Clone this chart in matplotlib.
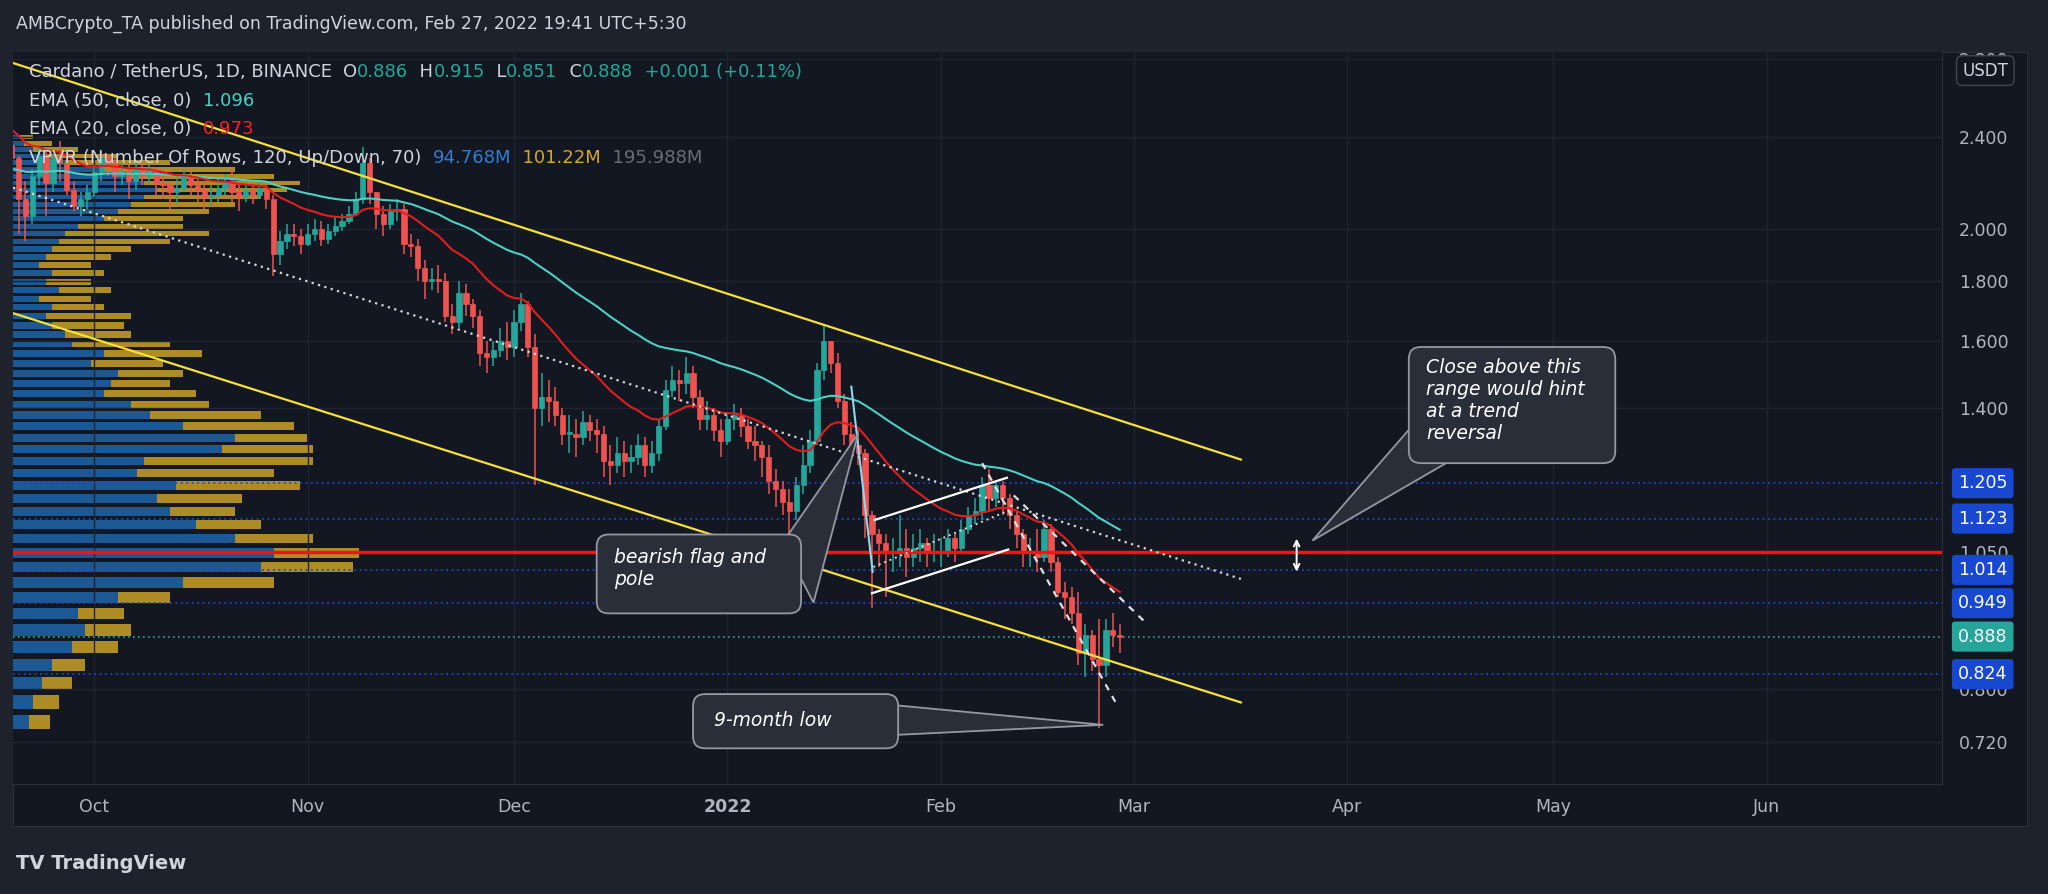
import numpy as np
import matplotlib
matplotlib.use("Agg")
import matplotlib.pyplot as plt
from matplotlib.patches import Rectangle, FancyBboxPatch, Polygon
from matplotlib.transforms import blended_transform_factory

# ---------------- data ----------------
first_day = -104  # Sep 19, 2021 relative to Jan 1 2022
first_open = 2.36
closes = [2.30,2.12,2.05,2.22,2.31,2.19,2.30,2.28,2.16,2.09,2.12,2.15,
          2.24,2.30,2.28,2.22,2.24,2.20,2.25,2.22,2.24,2.19,2.18,2.15,2.17,2.22,2.18,2.16,2.13,2.14,2.17,2.19,2.15,2.13,2.16,2.14,2.17,2.12,1.90,1.95,1.98,1.97,1.94,
          1.98,2.00,1.96,1.99,2.01,2.03,2.06,2.12,2.28,2.15,2.06,2.02,2.07,2.08,1.94,1.93,1.85,1.80,1.81,1.80,1.68,1.66,1.76,1.72,1.68,1.56,1.55,1.57,1.60,1.58,
          1.66,1.72,1.58,1.40,1.43,1.42,1.38,1.33,1.33,1.32,1.36,1.34,1.33,1.26,1.25,1.28,1.26,1.27,1.30,1.25,1.28,1.35,1.45,1.48,1.47,1.50,1.43,1.37,1.38,1.34,1.31,
          1.37,1.38,1.35,1.31,1.30,1.27,1.21,1.19,1.16,1.14,1.20,1.25,1.31,1.51,1.60,1.53,1.42,1.33,1.30,1.28,1.13,1.09,1.07,1.05,1.05,1.06,1.04,1.06,1.07,1.05,1.05,
          1.05,1.08,1.06,1.10,1.13,1.14,1.20,1.17,1.20,1.17,1.13,1.09,1.05,1.05,1.04,1.10,1.03,0.97,0.96,0.93,0.86,0.89,0.85,0.84,0.90,0.89,0.888]
highs = [2.42,2.31,2.20,2.25,2.36,2.33,2.32,2.38,2.33,2.20,2.15,2.18,
         2.27,2.33,2.32,2.30,2.28,2.27,2.29,2.28,2.27,2.26,2.22,2.20,2.21,2.25,2.24,2.22,2.20,2.18,2.21,2.23,2.25,2.20,2.19,2.19,2.20,2.19,2.14,1.99,2.02,2.02,2.00,
         2.02,2.04,2.03,2.02,2.05,2.06,2.09,2.15,2.35,2.30,2.15,2.09,2.10,2.12,2.10,1.98,1.96,1.88,1.85,1.86,1.83,1.72,1.80,1.79,1.74,1.70,1.60,1.60,1.64,1.66,
         1.70,1.76,1.73,1.62,1.50,1.48,1.46,1.40,1.38,1.37,1.39,1.38,1.37,1.35,1.30,1.32,1.31,1.30,1.33,1.32,1.31,1.37,1.48,1.52,1.51,1.55,1.52,1.45,1.42,1.40,1.37,
         1.38,1.41,1.40,1.37,1.35,1.31,1.30,1.24,1.21,1.19,1.22,1.30,1.34,1.53,1.65,1.60,1.56,1.44,1.36,1.34,1.29,1.14,1.10,1.09,1.08,1.13,1.10,1.09,1.10,1.08,1.09,
         1.08,1.10,1.09,1.12,1.15,1.17,1.22,1.24,1.21,1.21,1.18,1.14,1.10,1.08,1.10,1.12,1.11,1.04,0.99,0.98,0.97,0.91,0.90,0.92,0.92,0.93,0.91]
lows = [2.28,1.98,1.95,2.02,2.18,2.05,2.15,2.20,2.14,2.07,2.05,2.08,
        2.13,2.20,2.22,2.15,2.18,2.12,2.16,2.18,2.19,2.14,2.12,2.08,2.10,2.15,2.14,2.10,2.08,2.09,2.11,2.14,2.10,2.07,2.11,2.10,2.12,2.08,1.82,1.86,1.92,1.93,1.90,
        1.93,1.95,1.93,1.94,1.97,1.99,2.02,2.05,2.10,2.10,2.00,1.97,2.00,2.03,1.90,1.89,1.80,1.74,1.77,1.76,1.66,1.62,1.64,1.68,1.64,1.52,1.50,1.52,1.55,1.54,
        1.55,1.63,1.55,1.20,1.35,1.36,1.35,1.30,1.28,1.27,1.30,1.31,1.28,1.22,1.20,1.23,1.22,1.23,1.25,1.22,1.23,1.26,1.34,1.43,1.42,1.44,1.40,1.34,1.34,1.31,1.27,
        1.30,1.34,1.32,1.29,1.26,1.22,1.18,1.15,1.13,1.09,1.12,1.18,1.23,1.30,1.48,1.50,1.40,1.30,1.26,1.25,1.08,0.94,1.02,0.96,1.01,1.02,1.00,1.02,1.03,1.02,1.03,
        1.02,1.04,1.03,1.05,1.09,1.11,1.12,1.14,1.15,1.13,1.10,1.06,1.02,1.02,1.01,1.03,1.01,0.96,0.92,0.91,0.84,0.82,0.83,0.74,0.82,0.87,0.86]

vp_prices = [0.75+0.03*i for i in range(56)]
vp_up    = [12,15,22,30,45,55,50,80,130,190,200,170,140,120,110,125,95,100,160,170,130,105,90,70,75,80,60,70,45,40,
            30,25,30,20,35,25,30,20,25,30,35,40,50,70,80,90,100,110,100,90,70,40,25,15,8,5]
vp_total = [28,35,45,55,80,90,85,120,200,260,265,230,190,170,175,220,200,230,230,225,215,190,150,140,120,130,115,145,120,90,
            85,90,70,60,75,60,70,60,75,90,120,150,130,130,150,170,190,210,220,200,170,120,80,50,30,15]

level_lines = [1.205, 1.123, 1.014, 0.949, 0.824]
last_price = 0.888
key_level = 1.05
price_ticks = [0.720, 0.800, 1.050, 1.400, 1.600, 1.800, 2.000, 2.400, 2.800]
month_pos = [-92, -61, -31, 0, 31, 59, 90, 120, 151]
month_labels = ["Oct", "Nov", "Dec", "2022", "Feb", "Mar", "Apr", "May", "Jun"]

# ---------------- figure ----------------
BG = "#131722"
fig = plt.figure(figsize=(20.48, 8.94), dpi=100)
fig.patch.set_facecolor("#1e222d")
W, H = 1568, 684
panel = Rectangle((10/W, 1-632/H), 1542/W, 592/H, transform=fig.transFigure,
                  facecolor=BG, edgecolor="#2a2e39", zorder=-10)
fig.add_artist(panel)
ax = fig.add_axes([10/W, 1-600/H, 1477/W, 560/H])
ax.set_zorder(1)
ax.set_facecolor(BG)
ax.set_yscale("log")
ax.set_xlim(-103.8, 176.5)
ax.set_ylim(0.662, 2.84)
for s in ax.spines.values():
    s.set_visible(False)
ax.spines["right"].set_visible(True); ax.spines["right"].set_color("#2a2e39")
ax.spines["bottom"].set_visible(True); ax.spines["bottom"].set_color("#2a2e39")

ax.yaxis.tick_right()
ax.set_yticks(price_ticks)
ax.set_yticklabels([f"{t:.3f}" for t in price_ticks])
ax.minorticks_off()
ax.tick_params(axis="y", colors="#b2b5be", labelsize=12.5, length=0, pad=12)
ax.set_xticks(month_pos)
ax.set_xticklabels(month_labels)
ax.tick_params(axis="x", colors="#b2b5be", labelsize=12.5, length=0, pad=10)
for lab in ax.get_xticklabels():
    if lab.get_text() == "2022":
        lab.set_fontweight("bold")
ax.grid(True, color="#1f2330", lw=1)

# volume profile
bt = blended_transform_factory(ax.transAxes, ax.transData)
axw = 1477.0
for p, u, t in zip(vp_prices, vp_up, vp_total):
    ax.add_patch(Rectangle((0, p-0.011), u/axw, 0.021, transform=bt, facecolor="#1e64a8",
                           alpha=0.85, lw=0, zorder=1))
    ax.add_patch(Rectangle((u/axw, p-0.011), (t-u)/axw, 0.021, transform=bt, facecolor="#c9a227",
                           alpha=0.85, lw=0, zorder=1))

# candles
n = len(closes)
days = np.arange(first_day, first_day+n)
opens = [first_open] + closes[:-1]
for d, o, c, h, l in zip(days, opens, closes, highs, lows):
    col = "#26a69a" if c >= o else "#ef5350"
    ax.vlines(d, l, h, color=col, lw=1.1, zorder=4)
    ax.add_patch(Rectangle((d-0.38, min(o, c)), 0.76, max(abs(c-o), 0.003), facecolor=col,
                           edgecolor=col, lw=0.5, zorder=5))

def ema(vals, span):
    a = 2/(span+1); out = []; e = vals[0]
    for v in vals:
        e = a*v + (1-a)*e; out.append(e)
    return np.array(out)
ema_seed50 = [2.25]*40 + closes
ema_seed20 = [2.45]*15 + closes
ax.plot(days, ema(ema_seed50, 50)[40:], color="#4dd0c4", lw=1.5, zorder=6)
ax.plot(days, ema(ema_seed20, 20)[15:], color="#e01e1e", lw=1.5, zorder=6)

# horizontal levels
for lv in level_lines:
    ax.axhline(lv, color="#2046c8", lw=1.3, ls=(0, (1, 2)), zorder=2)
ax.axhline(last_price, color="#26a69a", lw=1.2, ls=(0, (1, 2)), zorder=2)
ax.axhline(key_level, color="#ff1010", lw=2.5, zorder=7)

# channel / trend lines
ax.plot([-103.8, 74.6], [2.78, 1.263], color="#f5e03c", lw=1.6, zorder=7)
ax.plot([-103.8, 74.6], [1.69, 0.779], color="#f5e03c", lw=1.6, zorder=7)
ax.plot([-103.8, 74.6], [2.17, 0.996], color="#d8d8d8", lw=1.6, ls=(0, (1, 2)), zorder=7)
ax.plot([21.4, 40.6], [1.12, 1.218], color="white", lw=1.6, zorder=8)
ax.plot([21.0, 40.8], [0.968, 1.056], color="white", lw=1.6, zorder=8)
ax.plot([21.2, 40.7], [1.02, 1.14], color="#d8d8d8", lw=1.4, ls=(0, (1, 2)), zorder=8)
ax.plot([18.0, 21.1], [1.46, 1.01], color="#8fd8ec", lw=1.5, zorder=8)
ax.plot([37.0, 56.4], [1.254, 0.779], color="#e0e0e0", lw=1.6, ls=(0, (3, 3)), zorder=8)
ax.plot([41.6, 61.1], [1.176, 0.909], color="#e0e0e0", lw=1.6, ls=(0, (3, 3)), zorder=8)
ax.annotate("", xy=(82.7, 1.005), xytext=(82.7, 1.085),
            arrowprops=dict(arrowstyle="<->", color="white", lw=1.4), zorder=9)

fig.canvas.draw()

def callout(x0, x1, y0, y1):
    tr = ax.transData
    X0, Y0 = tr.transform((x0, y0)); X1, Y1 = tr.transform((x1, y1))
    fb = FancyBboxPatch((X0, Y0), X1-X0, Y1-Y0, boxstyle="round,pad=0,rounding_size=12",
                        transform=None, facecolor="#2a2e39", edgecolor="#9598a1", lw=1.3, zorder=10)
    ax.add_artist(fb)

def pointer(base_pts, tip):
    tr = ax.transData
    pts = [tr.transform(p) for p in base_pts] + [tr.transform(tip)]
    poly = Polygon([pts[0], pts[2], pts[1]], closed=True, transform=None, facecolor="#2a2e39",
                   edgecolor="#9598a1", lw=1.3, zorder=9.5)
    ax.add_artist(poly)

# box 1
pointer([(99.0, 1.34), (107.0, 1.28)], (85.0, 1.075))
callout(99.0, 129.0, 1.254, 1.58)
ax.text(101.5, 1.545, "Close above this\nrange would hint\nat a trend\nreversal", color="white",
        fontsize=13.5, style="italic", va="top", ha="left", zorder=11, linespacing=1.2)
# box 2
pointer([(8.0, 1.07), (12.5, 0.95)], (19.0, 1.33))
callout(-19.0, 10.7, 0.93, 1.088)
ax.text(-16.5, 1.06, "bearish flag and\npole", color="white", fontsize=13.5, style="italic",
        va="top", ha="left", zorder=11, linespacing=1.2)
# box 3
pointer([(24.0, 0.775), (24.0, 0.73)], (54.6, 0.745))
callout(-5.0, 24.8, 0.711, 0.792)
ax.text(-2.0, 0.752, "9-month low", color="white", fontsize=13.5, style="italic",
        va="center", ha="left", zorder=11)

# right-axis labels
for lv in level_lines:
    ax.text(1.0+31/axw, lv, f"{lv:.3f}", transform=bt, color="white", fontsize=12.5, ha="center",
            va="center", zorder=12, clip_on=False,
            bbox=dict(boxstyle="round,pad=0.35,rounding_size=0.2", fc="#1848d0", ec="none"))
ax.text(1.0+31/axw, last_price, f"{last_price:.3f}", transform=bt, color="white", fontsize=12.5,
        ha="center", va="center", zorder=12, clip_on=False,
        bbox=dict(boxstyle="round,pad=0.35,rounding_size=0.2", fc="#26a69a", ec="none"))
fig.text(1520/W, 1-54/H, "USDT", color="#d1d4dc", fontsize=12, ha="center", va="center", zorder=20,
         bbox=dict(boxstyle="round,pad=0.35", fc="#131722", ec="#434651"))

# header & legend
fig.text(12/W, 1-18/H, "AMBCrypto_TA published on TradingView.com, Feb 27, 2022 19:41 UTC+5:30",
         color="#d1d4dc", fontsize=12.5, va="center")
r = fig.canvas.get_renderer()
def legend_line(y, parts):
    x = 22
    for txt, col in parts:
        t = fig.text(x/W, 1-y/H, txt, color=col, fontsize=13, va="center", zorder=20)
        bb = t.get_window_extent(renderer=r)
        x += bb.width * W / fig.bbox.width
legend_line(55, [("Cardano / TetherUS, 1D, BINANCE  ", "#d1d4dc"), ("O", "#d1d4dc"), ("0.886", "#26a69a"),
                 ("  H", "#d1d4dc"), ("0.915", "#26a69a"), ("  L", "#d1d4dc"), ("0.851", "#26a69a"),
                 ("  C", "#d1d4dc"), ("0.888", "#26a69a"), ("  +0.001 (+0.11%)", "#26a69a")])
legend_line(77, [("EMA (50, close, 0)  ", "#d1d4dc"), ("1.096", "#4dd0c4")])
legend_line(99, [("EMA (20, close, 0)  ", "#d1d4dc"), ("0.973", "#ff2020")])
legend_line(121, [("VPVR (Number Of Rows, 120, Up/Down, 70)  ", "#d1d4dc"), ("94.768M", "#2f7fd0"),
                  ("  101.22M", "#d4a72c"), ("  195.988M", "#6a6d78")])
fig.text(12/W, 1-661/H, "TV TradingView", color="#d1d4dc", fontsize=14, fontweight="bold", va="center")

fig.savefig("out.png", dpi=100, facecolor=fig.get_facecolor())
